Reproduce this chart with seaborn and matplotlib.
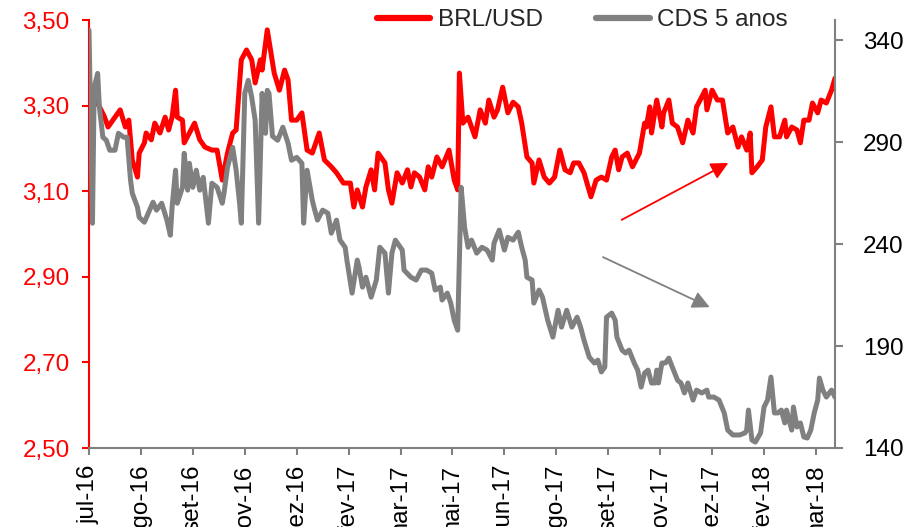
import numpy as np
import pandas as pd
import matplotlib
matplotlib.use("Agg")
import matplotlib.pyplot as plt
import seaborn as sns
from matplotlib.ticker import FuncFormatter

# -----------------------------
# Data (trading-day index)
# -----------------------------
brl_day = [0, 5, 9, 11, 15, 18, 21, 23, 25, 28, 29, 32, 33, 36, 38, 41, 44, 46, 48, 50,
           51, 54, 55, 58, 61, 64, 67, 71, 74, 77, 80, 83, 85, 88, 91, 94, 96, 99, 100, 103,
           107, 110, 113, 115, 117, 120, 123, 126, 129, 133, 136, 140, 143, 147, 151, 153, 155, 158, 160, 163,
           165, 167, 171, 173, 175, 178, 181, 184, 186, 188, 191, 194, 196, 198, 201, 204, 208, 211, 213, 214,
           216, 219, 223, 226, 229, 231, 234, 236, 239, 242, 245, 248, 250, 253, 256, 257, 260, 263, 266, 269,
           272, 275, 278, 280, 283, 286, 290, 293, 296, 299, 302, 304, 306, 308, 311, 314, 318, 321, 322, 324,
           325, 328, 331, 332, 335, 337, 340, 343, 346, 349, 351, 354, 356, 357, 360, 363, 366, 369, 372, 375,
           377, 380, 382, 383, 386, 389, 391, 394, 396, 399, 402, 403, 406, 409, 411, 413, 416, 418, 421, 423,
           426, 429, 431]
brl_val = [3.30, 3.306, 3.273, 3.250, 3.273, 3.290, 3.250, 3.266, 3.173, 3.133, 3.189, 3.213, 3.236, 3.220, 3.259, 3.236, 3.273, 3.243, 3.273, 3.336,
           3.273, 3.266, 3.213, 3.236, 3.259, 3.220, 3.203, 3.196, 3.196, 3.126, 3.189, 3.236, 3.243, 3.407, 3.430, 3.407, 3.353, 3.407, 3.383, 3.477,
           3.376, 3.336, 3.383, 3.360, 3.266, 3.266, 3.283, 3.196, 3.189, 3.236, 3.173, 3.157, 3.143, 3.119, 3.119, 3.063, 3.103, 3.063, 3.110, 3.150,
           3.103, 3.189, 3.166, 3.103, 3.072, 3.143, 3.119, 3.150, 3.110, 3.143, 3.133, 3.103, 3.157, 3.133, 3.180, 3.157, 3.196, 3.126, 3.103, 3.376,
           3.259, 3.273, 3.227, 3.290, 3.259, 3.313, 3.273, 3.290, 3.343, 3.283, 3.308, 3.297, 3.259, 3.180, 3.166, 3.119, 3.173, 3.133, 3.119, 3.133,
           3.196, 3.150, 3.143, 3.166, 3.166, 3.143, 3.087, 3.126, 3.133, 3.126, 3.180, 3.196, 3.150, 3.180, 3.189, 3.157, 3.189, 3.259, 3.250, 3.297,
           3.236, 3.313, 3.250, 3.283, 3.313, 3.259, 3.250, 3.213, 3.266, 3.236, 3.297, 3.320, 3.336, 3.290, 3.336, 3.313, 3.313, 3.236, 3.250, 3.203,
           3.227, 3.196, 3.236, 3.143, 3.157, 3.173, 3.250, 3.297, 3.227, 3.227, 3.266, 3.227, 3.250, 3.243, 3.213, 3.266, 3.266, 3.306, 3.283, 3.313,
           3.306, 3.336, 3.364]

cds_day = [0, 2, 3, 5, 6, 8, 10, 12, 15, 17, 20, 22, 24, 25, 28, 29, 32, 35, 37, 39,
           42, 45, 47, 48, 50, 51, 54, 55, 57, 58, 60, 62, 64, 66, 69, 71, 74, 77, 78, 80,
           83, 85, 87, 88, 90, 92, 94, 96, 98, 100, 102, 103, 104, 106, 109, 112, 115, 117, 120, 123,
           124, 126, 129, 130, 132, 135, 138, 140, 143, 145, 148, 149, 152, 155, 156, 158, 160, 163, 166, 168,
           171, 173, 175, 177, 181, 182, 186, 189, 192, 195, 198, 200, 203, 204, 207, 209, 211, 213, 215, 217,
           219, 221, 224, 227, 230, 233, 234, 237, 240, 242, 245, 248, 250, 252, 253, 256, 257, 260, 262, 265,
           268, 271, 273, 276, 279, 282, 284, 286, 289, 292, 294, 296, 298, 299, 302, 304, 305, 308, 310, 312,
           315, 317, 319, 321, 323, 325, 327, 328, 329, 331, 333, 335, 337, 340, 342, 344, 346, 349, 351, 354,
           357, 358, 361, 364, 367, 369, 372, 376, 379, 380, 381, 383, 385, 388, 390, 392, 394, 396, 398, 400,
           402, 403, 406, 407, 409, 411, 413, 415, 417, 419, 421, 422, 424, 426, 429, 431]
cds_val = [345.0, 250.3, 317.0, 323.8, 307.2, 292.5, 291.0, 286.1, 286.1, 294.4, 292.5, 292.5, 271.4, 265.0, 258.1, 253.2, 250.8, 256.7, 260.6, 256.7,
           260.1, 251.8, 244.4, 258.1, 276.3, 260.1, 267.9, 284.6, 266.5, 279.7, 267.9, 276.3, 266.5, 272.8, 250.3, 269.9, 267.9, 260.1, 265.0, 277.7,
           287.5, 276.3, 260.1, 250.3, 314.0, 320.4, 312.1, 300.8, 250.3, 314.0, 294.4, 315.5, 314.0, 293.0, 291.0, 297.4, 289.5, 281.2, 282.6, 279.7,
           250.3, 276.3, 261.6, 258.1, 251.8, 256.7, 255.2, 245.4, 251.8, 242.0, 238.5, 232.2, 216.0, 232.2, 228.7, 218.9, 223.8, 214.0, 222.4, 238.5,
           235.6, 216.0, 235.6, 242.0, 237.1, 227.3, 223.8, 222.4, 227.3, 227.3, 225.8, 217.5, 218.9, 212.6, 216.0, 211.1, 202.7, 197.8, 267.9, 248.3,
           238.5, 242.0, 235.6, 238.5, 237.1, 232.2, 240.5, 246.9, 237.1, 243.4, 242.0, 245.9, 238.5, 232.2, 223.8, 222.4, 211.1, 217.5, 214.0, 202.7,
           194.4, 207.6, 199.3, 207.6, 199.3, 204.2, 199.3, 192.9, 184.6, 181.7, 183.1, 177.3, 179.7, 204.2, 206.2, 202.7, 194.4, 188.0, 186.6, 188.0,
           181.7, 178.2, 169.9, 176.8, 178.2, 171.9, 171.9, 178.2, 171.9, 181.7, 181.7, 184.1, 179.7, 173.3, 171.9, 167.0, 171.9, 163.5, 168.4, 167.0,
           168.4, 165.0, 165.0, 163.5, 157.2, 148.8, 146.4, 146.4, 147.4, 148.8, 158.6, 143.9, 142.9, 147.4, 160.1, 163.5, 174.8, 157.2, 157.2, 158.6,
           152.3, 158.6, 148.8, 160.1, 150.3, 152.3, 145.4, 144.9, 148.8, 157.2, 163.5, 174.3, 168.4, 165.0, 168.4, 165.0]

tick_days = [0, 30, 60, 90, 120, 150, 180, 210, 240, 270, 300, 330, 360, 390, 420]
tick_labels = ["jul-16", "ago-16", "set-16", "nov-16", "dez-16", "fev-17", "mar-17", "mai-17",
               "jun-17", "ago-17", "set-17", "nov-17", "dez-17", "fev-18", "mar-18"]

brl = pd.DataFrame({"day": brl_day, "BRL/USD": brl_val})
cds = pd.DataFrame({"day": cds_day, "CDS 5 anos": cds_val})

# -----------------------------
# Style
# -----------------------------
sns.set_style("white")
plt.rcParams["font.family"] = ["Liberation Sans", "DejaVu Sans"]
plt.rcParams["font.size"] = 17.5

RED = "#ff0000"
GRAY = "#808080"

fig = plt.figure(figsize=(9.04, 5.27), dpi=100)
ax = fig.add_axes([89 / 904, 1 - 448 / 527, (835 - 89) / 904, (448 - 20) / 527])
ax2 = ax.twinx()

sns.lineplot(data=brl, x="day", y="BRL/USD", ax=ax, color=RED, lw=3.6, label="BRL/USD", legend=False)
sns.lineplot(data=cds, x="day", y="CDS 5 anos", ax=ax2, color=GRAY, lw=3.6, label="CDS 5 anos", legend=False)

# -----------------------------
# Axes
# -----------------------------
ax.set_xlim(0, 431)
ax.set_ylim(2.5, 3.5)
ax2.set_ylim(140, 350)

ax.set_yticks([2.5, 2.7, 2.9, 3.1, 3.3, 3.5])
ax.yaxis.set_major_formatter(FuncFormatter(lambda v, p: f"{v:.2f}".replace(".", ",")))
ax2.set_yticks([140, 190, 240, 290, 340])

ax.set_xticks(tick_days)
ax.set_xticklabels(tick_labels, rotation=90, va="top", ha="center")

ax.set_xlabel("")
ax.set_ylabel("")
ax2.set_ylabel("")

for a in (ax, ax2):
    a.spines["top"].set_visible(False)
ax.spines["right"].set_visible(False)
ax2.spines["left"].set_visible(False)
ax2.spines["bottom"].set_visible(False)

ax.spines["left"].set_color(RED)
ax.spines["left"].set_linewidth(1.5)
ax.spines["bottom"].set_color(GRAY)
ax.spines["bottom"].set_linewidth(1.5)
ax2.spines["right"].set_color(GRAY)
ax2.spines["right"].set_linewidth(1.5)

ax.tick_params(axis="y", colors=RED, labelcolor=RED, length=5, width=1.5, pad=9, left=True)
ax.tick_params(axis="x", colors=GRAY, labelcolor="black", length=5, width=1.5, pad=7, bottom=True)
ax2.tick_params(axis="y", colors=GRAY, labelcolor="black", length=6, width=1.5, pad=14, right=True)

# -----------------------------
# Trend arrows
# -----------------------------
ax.annotate("", xy=(0.857, 0.666), xytext=(0.714, 0.533), xycoords="axes fraction",
            arrowprops=dict(arrowstyle="-|>", color=RED, lw=1.3, mutation_scale=26, shrinkA=0, shrinkB=0))
ax.annotate("", xy=(0.832, 0.329), xytext=(0.689, 0.446), xycoords="axes fraction",
            arrowprops=dict(arrowstyle="-|>", color=GRAY, lw=1.3, mutation_scale=26, shrinkA=0, shrinkB=0))

# -----------------------------
# Legend
# -----------------------------
h1, l1 = ax.get_legend_handles_labels()
h2, l2 = ax2.get_legend_handles_labels()
leg = fig.legend(h1 + h2, l1 + l2, loc="center", bbox_to_anchor=(0.644, 0.962), ncol=2,
                 frameon=False, handlelength=2.2, handletextpad=0.3, columnspacing=2.2,
                 fontsize=17.5)
for line in leg.get_lines():
    line.set_linewidth(4.5)

fig.savefig("out.png", dpi=100)
